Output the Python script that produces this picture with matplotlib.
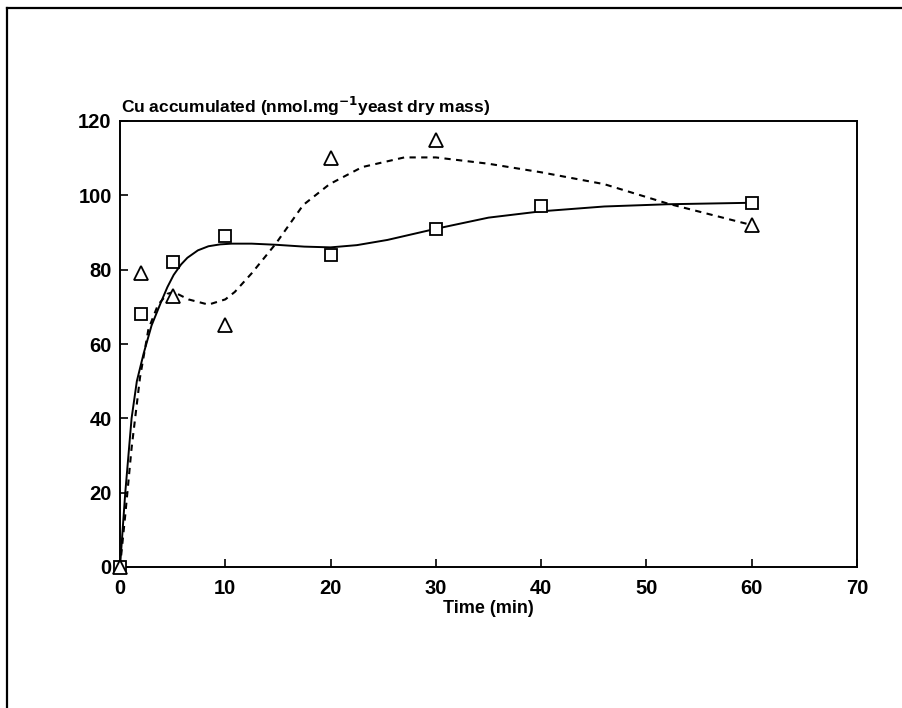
import matplotlib
matplotlib.use("Agg")
import matplotlib.pyplot as plt
from matplotlib.lines import Line2D

# measured points
sq_time = [0, 2, 5, 10, 20, 30, 40, 60]
sq_cu = [0, 68, 82, 89, 84, 91, 97, 98]
tri_time = [0, 2, 5, 10, 20, 30, 60]
tri_cu = [0, 79, 73, 65, 110, 115, 92]

# fitted curves
fit_sq_time = [0, 0.5, 1.1, 1.6, 2.25, 3.0, 3.9, 4.5, 5.1, 5.8, 6.4, 7.4, 8.4, 9.5, 10.6, 12.5, 14.8, 17.5, 20, 22.5, 25.4, 30, 35, 40, 46, 52, 60]
fit_sq_cu = [0, 20, 40, 50, 57.5, 65, 71.3, 75.3, 78.6, 81.4, 83.2, 85.2, 86.3, 86.8, 87, 87, 86.7, 86.2, 86, 86.6, 88, 91, 94, 95.7, 97, 97.6, 98]
fit_tri_time = [0, 0.5, 1.1, 1.9, 2.7, 3.6, 4.5, 5.1, 6.5, 8.4, 10, 10.9, 12.5, 14.8, 17.4, 19.9, 23, 27, 30, 35, 40, 46, 52, 60]
fit_tri_cu = [0, 14, 32, 51, 64, 70.5, 73.5, 74, 72, 70.6, 72, 74, 79, 87, 97.4, 103, 107.6, 110.2, 110.2, 108.5, 106.2, 103, 97.8, 92]

xticks = [0, 10, 20, 30, 40, 50, 60, 70]
yticks = [0, 20, 40, 60, 80, 100, 120]

plt.rcParams['font.family'] = ['Liberation Sans', 'DejaVu Sans']

fig = plt.figure(figsize=(9.02, 7.08), dpi=100)
L, R, T, B = 120, 857, 121, 567
ax = fig.add_axes([L/902, 1-B/708, (R-L)/902, (B-T)/708])

ax.plot(fit_sq_time, fit_sq_cu, color='black', lw=1.4, solid_joinstyle='round')
ax.plot(fit_tri_time, fit_tri_cu, color='black', lw=1.5, linestyle=(0, (3.0, 2.6)))

ax.plot(sq_time, sq_cu, linestyle='none', marker='s', ms=8.5, mfc='white', mec='black', mew=1.3, clip_on=False, zorder=5)
ax.plot(tri_time, tri_cu, linestyle='none', marker='^', ms=10, mfc='white', mec='black', mew=1.3, clip_on=False, zorder=5)

ax.set_xlim(0, 70)
ax.set_ylim(0, 120)
ax.set_xticks(xticks)
ax.set_yticks(yticks)
ax.tick_params(direction='in', length=6, width=1.2, labelsize=14.5, pad=6)
ax.tick_params(axis='x', pad=9)
for lab in ax.get_xticklabels() + ax.get_yticklabels():
    lab.set_fontweight('bold')
for s in ax.spines.values():
    s.set_linewidth(1.4)

ax.set_xlabel('Time (min)', fontsize=13, fontweight='bold', labelpad=1)
fig.text(121/902, 1-113/708, 'Cu accumulated (nmol.mg$^{\\mathbf{-1}}$yeast dry mass)',
         fontsize=12.5, fontweight='bold', ha='left', va='baseline')

# outer frame (left and top edges)
fig.add_artist(Line2D([7/902, 7/902], [0, 1-8/708], color='black', lw=1.6, transform=fig.transFigure))
fig.add_artist(Line2D([7/902, 1], [1-8/708, 1-8/708], color='black', lw=1.6, transform=fig.transFigure))

fig.savefig('out.png', dpi=100)
